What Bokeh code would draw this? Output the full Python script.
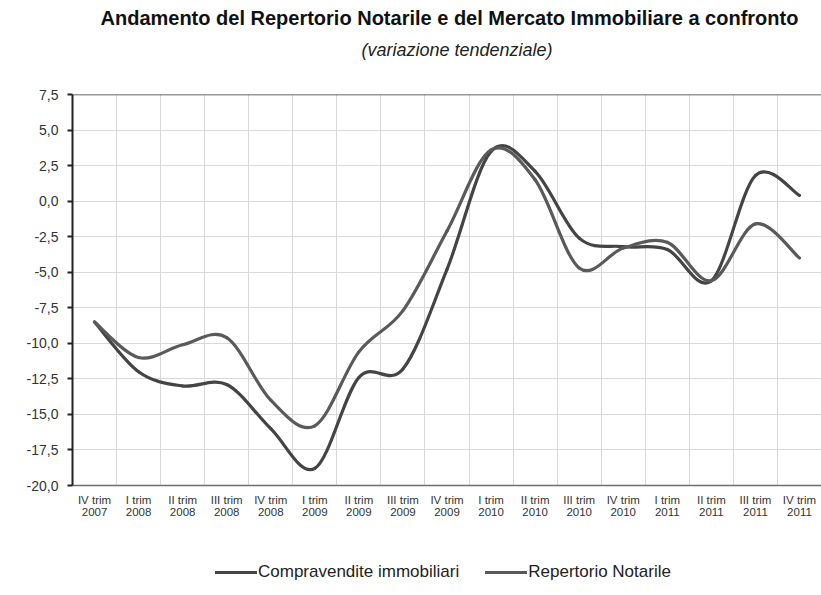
from bokeh.plotting import figure
from bokeh.layouts import column
from bokeh.models import (FixedTicker, Legend, LegendItem, Title, Span, Range1d,
                          ColumnDataSource)
from bokeh.embed import file_html
from bokeh.resources import INLINE

# ---- data ----
quarters = ["IV trim\n2007", "I trim\n2008", "II trim\n2008", "III trim\n2008",
            "IV trim\n2008", "I trim\n2009", "II trim\n2009", "III trim\n2009",
            "IV trim\n2009", "I trim\n2010", "II trim\n2010", "III trim\n2010",
            "IV trim\n2010", "I trim\n2011", "II trim\n2011", "III trim\n2011",
            "IV trim\n2011"]
compravendite = [-8.5, -12.0, -13.0, -12.9, -16.0, -18.8, -12.4, -11.8, -4.8,
                 3.5, 2.1, -2.6, -3.2, -3.4, -5.6, 1.8, 0.4]
repertorio = [-8.5, -11.0, -10.1, -9.6, -14.0, -15.8, -10.6, -7.7, -2.1,
              3.6, 1.5, -4.7, -3.3, -2.9, -5.6, -1.6, -4.0]
y_ticks = [-20.0, -17.5, -15.0, -12.5, -10.0, -7.5, -5.0, -2.5, 0.0, 2.5, 5.0, 7.5]
y_labels = ["-20,0", "-17,5", "-15,0", "-12,5", "-10,0", "-7,5", "-5,0", "-2,5",
            "0,0", "2,5", "5,0", "7,5"]
series_names = ["Compravendite immobiliari", "Repertorio Notarile"]
series_colors = ["#444444", "#5a5a5a"]
title_text = "Andamento del Repertorio Notarile e del Mercato Immobiliare a confronto"
subtitle_text = "(variazione tendenziale)"


def smooth_segments(vals):
    """Excel-style smoothed line: cubic Bezier segments through the data points."""
    n = len(vals)
    d = dict(x0=[], y0=[], x1=[], y1=[], cx0=[], cy0=[], cx1=[], cy1=[])
    for i in range(n - 1):
        a, b = max(i - 1, 0), min(i + 2, n - 1)
        d["x0"].append(i); d["y0"].append(vals[i])
        d["x1"].append(i + 1); d["y1"].append(vals[i + 1])
        d["cx0"].append(i + (i + 1 - a) / 6.0)
        d["cy0"].append(vals[i] + (vals[i + 1] - vals[a]) / 6.0)
        d["cx1"].append(i + 1 - (b - i) / 6.0)
        d["cy1"].append(vals[i + 1] - (vals[b] - vals[i]) / 6.0)
    return ColumnDataSource(d)


src_c = smooth_segments(compravendite)
src_r = smooth_segments(repertorio)
W = 821

# ---------------- title strip ----------------
t = figure(width=W, height=63, output_backend="svg", toolbar_location=None,
           x_axis_location=None, y_axis_location=None, min_border=0)
t.outline_line_color = None
t.grid.visible = False
t.add_layout(Title(text=title_text, align="left", text_font="Liberation Sans",
                   text_font_style="bold", text_font_size="20px",
                   text_color="#111111", standoff=9, offset=28), "above")
t.add_layout(Title(text=subtitle_text, align="left", text_font="Liberation Sans",
                   text_font_style="italic", text_font_size="18px",
                   text_color="#222222", standoff=8, offset=289), "below")

# ---------------- main chart ----------------
p = figure(width=W, height=483, output_backend="svg", toolbar_location=None,
           x_range=Range1d(-0.5, len(quarters) - 0.5), y_range=Range1d(-20, 7.5),
           min_border_left=72, min_border_right=0, min_border_top=31,
           min_border_bottom=61)
p.outline_line_color = None
p.background_fill_color = "white"

p.yaxis.ticker = FixedTicker(ticks=y_ticks)
p.yaxis.major_label_overrides = dict(zip(y_ticks, y_labels))
p.yaxis.axis_line_color = "#222222"
p.yaxis.axis_line_width = 2
p.yaxis.major_tick_line_color = "#222222"
p.yaxis.major_tick_line_width = 2
p.yaxis.major_tick_out = 5
p.yaxis.major_tick_in = 0
p.yaxis.minor_tick_line_color = None
p.yaxis.major_label_standoff = 9
p.yaxis.major_label_text_font = "Liberation Sans"
p.yaxis.major_label_text_font_size = "14px"
p.yaxis.major_label_text_color = "#333333"

xt = [float(i) for i in range(len(quarters))]
p.xaxis.ticker = FixedTicker(ticks=xt)
p.xaxis.major_label_overrides = dict(zip(xt, quarters))
p.xaxis.axis_line_color = "#6e6e6e"
p.xaxis.axis_line_width = 1.5
p.xaxis.major_tick_line_color = None
p.xaxis.minor_tick_line_color = None
p.xaxis.major_label_standoff = 2
p.xaxis.major_label_text_font = "Liberation Sans"
p.xaxis.major_label_text_font_size = "11.5px"
p.xaxis.major_label_text_color = "#333333"
p.xaxis.major_label_text_line_height = 1.0

p.xgrid.ticker = FixedTicker(ticks=[i + 0.5 for i in range(len(quarters) - 1)])
p.xgrid.grid_line_color = "#d8d8d8"
p.xgrid.grid_line_width = 1
p.ygrid.ticker = FixedTicker(ticks=y_ticks)
p.ygrid.grid_line_color = "#d8d8d8"
p.ygrid.grid_line_width = 1

p.add_layout(Span(location=y_ticks[-1], dimension="width", line_color="#333333",
                  line_width=1.5))

bez = dict(x0="x0", y0="y0", x1="x1", y1="y1", cx0="cx0", cy0="cy0",
           cx1="cx1", cy1="cy1", line_width=3.2, line_cap="round")
p.bezier(source=src_c, line_color=series_colors[0], **bez)
p.bezier(source=src_r, line_color=series_colors[1], **bez)

# ---------------- legend strip ----------------
lg = figure(width=W, height=49, output_backend="svg", toolbar_location=None,
            x_axis_location=None, y_axis_location=None, min_border=0,
            x_range=Range1d(-0.5, len(quarters) - 0.5), y_range=Range1d(100, 101))
lg.outline_line_color = None
lg.grid.visible = False
l1 = lg.bezier(source=src_c, line_color=series_colors[0], **bez)
l2 = lg.bezier(source=src_r, line_color=series_colors[1], **bez)
legend = Legend(items=[LegendItem(label=series_names[0], renderers=[l1]),
                       LegendItem(label=series_names[1], renderers=[l2])],
                orientation="horizontal", location=(143, 13),
                glyph_width=42, glyph_height=16, label_standoff=1, spacing=26,
                padding=0, margin=0, border_line_color=None,
                background_fill_alpha=0, label_text_font="Liberation Sans",
                label_text_font_size="17px", label_text_color="#222222")
lg.add_layout(legend, "center")

layout = column(t, p, lg, spacing=0)
open("out.html", "w").write(file_html(layout, INLINE))
